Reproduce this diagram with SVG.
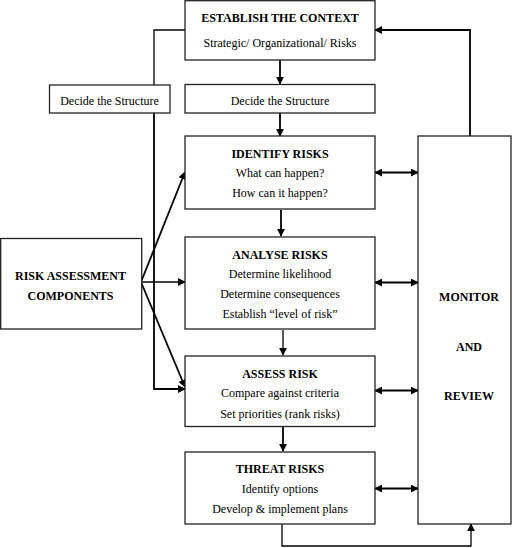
<svg xmlns="http://www.w3.org/2000/svg" width="521" height="548" viewBox="0 0 521 548">
<style>
.box{fill:#fff;stroke:#222;stroke-width:1.3}
text{font-family:'Liberation Serif','Times New Roman',serif;font-size:12px;fill:#000;text-anchor:middle}
.b{font-weight:bold}
.c{fill:none;stroke:#000;stroke-width:1.8}
.c1{fill:none;stroke:#000;stroke-width:1.3}
</style>
<defs>
<marker id="ah" viewBox="0 0 10 10" refX="9" refY="5" markerWidth="8" markerHeight="8" markerUnits="userSpaceOnUse" orient="auto-start-reverse">
<path d="M0,0 L10,5 L0,10 z" fill="#000"/>
</marker>
</defs>
<rect width="521" height="548" fill="#fff"/>
<g id="connectors">
<path class="c" d="M280,60 V84" marker-end="url(#ah)"/>
<path class="c" d="M280,113 V136" marker-end="url(#ah)"/>
<path class="c" d="M281,210 V236" marker-end="url(#ah)"/>
<path class="c1" d="M283,330 V355" marker-end="url(#ah)"/>
<path class="c" d="M283,427 V451" marker-end="url(#ah)"/>
<path class="c1" d="M185,30 H154 V85"/>
<path class="c" d="M154,113 V389 H185" marker-end="url(#ah)"/>
<path class="c" d="M141,282 L185,172" marker-end="url(#ah)"/>
<path class="c1" d="M141,282 H185" marker-end="url(#ah)"/>
<path class="c" d="M141,282 L185,387" marker-end="url(#ah)"/>
<path class="c" d="M375,172.5 H418" marker-start="url(#ah)" marker-end="url(#ah)"/>
<path class="c" d="M375,282.5 H418" marker-start="url(#ah)" marker-end="url(#ah)"/>
<path class="c" d="M375,390.5 H418" marker-start="url(#ah)" marker-end="url(#ah)"/>
<path class="c" d="M375,488.5 H418" marker-start="url(#ah)" marker-end="url(#ah)"/>
<path class="c" d="M470,136 V30 H375" marker-end="url(#ah)"/>
<path class="c1" d="M282,524 V546 H471 V524" marker-end="url(#ah)"/>
</g>
<g id="establish">
<rect class="box" x="185" y="0.7" width="190" height="59.3"/>
<text class="b" x="280" y="21.5">ESTABLISH THE CONTEXT</text>
<text x="280" y="46.5">Strategic/ Organizational/ Risks</text>
</g>
<g id="decide-center">
<rect class="box" x="185" y="84.5" width="190" height="28.5"/>
<text x="280" y="104.5">Decide the Structure</text>
</g>
<g id="decide-left">
<rect class="box" x="49.5" y="85" width="120.5" height="28"/>
<text x="109.5" y="104.5">Decide the Structure</text>
</g>
<g id="identify">
<rect class="box" x="185" y="136" width="190" height="73"/>
<text class="b" x="280" y="157.5">IDENTIFY RISKS</text>
<text x="280" y="177">What can happen?</text>
<text x="280" y="197">How can it happen?</text>
</g>
<g id="analyse">
<rect class="box" x="185" y="237" width="190" height="92"/>
<text class="b" x="280" y="258.5">ANALYSE RISKS</text>
<text x="280" y="278">Determine likelihood</text>
<text x="280" y="298">Determine consequences</text>
<text x="280" y="318">Establish “level of risk”</text>
</g>
<g id="assess">
<rect class="box" x="185" y="356" width="190" height="70.5"/>
<text class="b" x="280" y="377.5">ASSESS RISK</text>
<text x="280" y="397">Compare against criteria</text>
<text x="280" y="418">Set priorities (rank risks)</text>
</g>
<g id="threat">
<rect class="box" x="185" y="452" width="190" height="72"/>
<text class="b" x="280" y="473">THREAT RISKS</text>
<text x="280" y="493">Identify options</text>
<text x="280" y="513">Develop &amp; implement plans</text>
</g>
<g id="monitor">
<rect class="box" x="418" y="136" width="93" height="388"/>
<text class="b" x="469" y="300.5">MONITOR</text>
<text class="b" x="469" y="350.5">AND</text>
<text class="b" x="469" y="399.5">REVIEW</text>
</g>
<g id="risk-assessment">
<rect class="box" x="0.7" y="238.5" width="141" height="90.5"/>
<text class="b" x="70.5" y="279.5">RISK ASSESSMENT</text>
<text class="b" x="70.5" y="299.5">COMPONENTS</text>
</g>
</svg>
